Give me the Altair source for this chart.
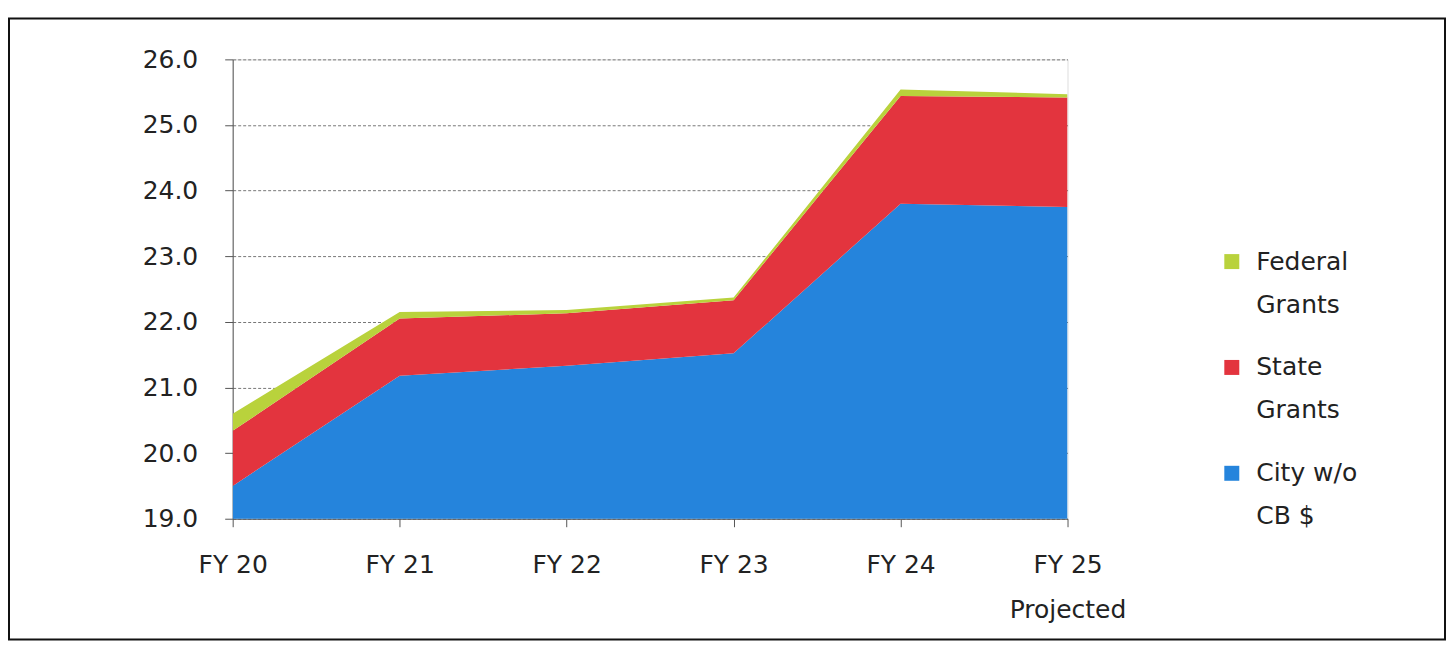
import altair as alt
import pandas as pd

years = ["FY 20", "FY 21", "FY 22", "FY 23", "FY 24", "FY 25 Projected"]
city = [19.50, 21.18, 21.33, 21.52, 23.80, 23.75]
state = [0.84, 0.87, 0.80, 0.81, 1.64, 1.67]
federal = [0.26, 0.10, 0.05, 0.04, 0.10, 0.05]

series_names = ["Federal Grants", "State Grants", "City w/o CB $"]
series_colors = ["#b9d23c", "#e3343e", "#2584dc"]
stack_rank = {"City w/o CB $": 0, "State Grants": 1, "Federal Grants": 2}

rows = []
for i, y in enumerate(years):
    for name, vals in (("City w/o CB $", city), ("State Grants", state), ("Federal Grants", federal)):
        rows.append({"year": y, "series": name, "value": vals[i], "rank": stack_rank[name]})
df = pd.DataFrame(rows)

FONT = "DejaVu Sans"

area = alt.Chart(df).mark_area(clip=True, opacity=1).encode(
    x=alt.X("year:N", sort=years, title=None,
            scale=alt.Scale(type="point", padding=0),
            axis=alt.Axis(labelAngle=0, labelFontSize=25, labelFont=FONT, labelColor="#222",
                          labelPadding=26, labelLineHeight=45, tickSize=8, tickColor="#555",
                          domainColor="#555", grid=False,
                          labelExpr="datum.value == 'FY 25 Projected' ? ['FY 25', 'Projected'] : datum.label")),
    y=alt.Y("value:Q", stack="zero", title=None,
            scale=alt.Scale(domain=[19, 26], nice=False, zero=False),
            axis=alt.Axis(values=[19, 20, 21, 22, 23, 24, 25, 26], format=".1f",
                          labelFontSize=25, labelFont=FONT, labelColor="#222",
                          labelPadding=27, tickSize=8, tickColor="#555", domainColor="#555",
                          grid=True, gridColor="#777", gridDash=[3, 2], gridWidth=1)),
    color=alt.Color("series:N",
                    scale=alt.Scale(domain=series_names, range=series_colors),
                    legend=alt.Legend(title=None, orient="none", legendX=988, legendY=190,
                                      symbolType="square", symbolSize=225, symbolStrokeWidth=0,
                                      labelFontSize=25, labelFont=FONT, labelColor="#222",
                                      rowPadding=37, labelOffset=12,
                                      labelExpr="split(datum.label, ' ').length > 2 ? ['City w/o', 'CB $'] : split(datum.label, ' ')")),
    order=alt.Order("rank:Q"),
)

frame = alt.Chart(alt.Data(values=[{"a": 1}])).mark_rect(
    fill=None, stroke="#111", strokeWidth=2
).encode(
    x=alt.value(-224), x2=alt.value(1214), y=alt.value(-41), y2=alt.value(581)
)

chart = alt.layer(area, frame).properties(
    width=836, height=460,
    padding={"left": 0, "top": 9, "right": 0, "bottom": 0},
).configure_view(stroke=None).configure(
    background="white",
    style={"guide-label": {"lineHeight": 43}},
)

chart.save("out.html", embed_options={"renderer": "svg", "actions": False})
